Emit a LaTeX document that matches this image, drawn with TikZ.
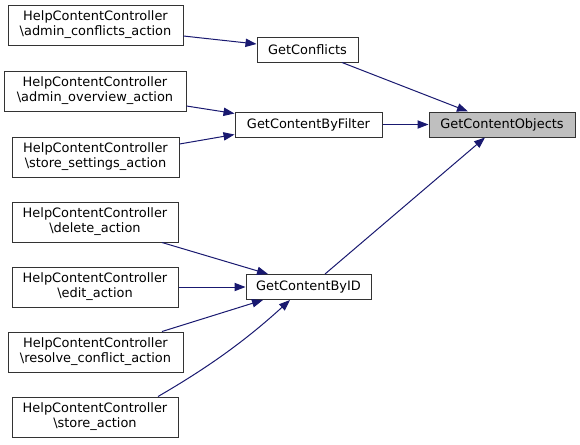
\documentclass[tikz,border=0pt]{standalone}
\usepackage{fontspec}
\setmainfont{DejaVu Sans}
\usetikzlibrary{arrows.meta,calc}
\definecolor{edgeblue}{HTML}{191970}
\definecolor{nodegray}{HTML}{BFBFBF}
\begin{document}
\begin{tikzpicture}[x=0.75pt,y=-0.75pt,
  box/.style={draw=black!80, line width=0.75pt, fill=white, inner sep=0pt,
    minimum height=30pt, align=center, font=\fontsize{9.7}{11.3}\selectfont},
  fnbox/.style={box, minimum height=18.75pt},
  edge/.style={draw=edgeblue, line width=0.75pt, -{Triangle[length=8.25pt,width=6.2pt]}}]
\useasboundingbox (0,0) rectangle (580,444);

\node[box, minimum width=131.25pt] (a1) at (95.5,25) {HelpContentController\\\textbackslash admin\_conflicts\_action};
\node[box, minimum width=136.5pt] (a2) at (95,91) {HelpContentController\\\textbackslash admin\_overview\_action};
\node[box, minimum width=125.25pt] (a3) at (95.5,157) {HelpContentController\\\textbackslash store\_settings\_action};
\node[box, minimum width=124.5pt] (a4) at (95,222) {HelpContentController\\\textbackslash delete\_action};
\node[box, minimum width=124.5pt] (a5) at (95,287) {HelpContentController\\\textbackslash edit\_action};
\node[box, minimum width=131.25pt] (a6) at (95.5,352) {HelpContentController\\\textbackslash resolve\_conflict\_action};
\node[box, minimum width=124.5pt] (a7) at (95,417) {HelpContentController\\\textbackslash store\_action};

\node[fnbox, minimum width=75.75pt] (gc) at (307.5,49.5) {GetConflicts};
\node[fnbox, minimum width=110.25pt] (gf) at (308.5,124.5) {GetContentByFilter};
\node[fnbox, minimum width=93.75pt] (gi) at (308.5,287) {GetContentByID};
\node[fnbox, minimum width=109.5pt, fill=nodegray] (go) at (502,124.5) {GetContentObjects};

\draw[edge] ($(a1.east)+(0,11)$) -- ($(gc.west)+(0,-5.5)$);
\draw[edge] ($(a2.east)+(0,15)$) -- ($(gf.west)+(0,-11)$);
\draw[edge] ($(a3.east)+(0,-13)$) -- ($(gf.west)+(0,10)$);
\draw[edge] ($(a4.south)+(67,0)$) -- ($(gi.north)+(-40.5,0)$);
\draw[edge] (a5.east) -- (gi.west);
\draw[edge] ($(a6.north)+(66.5,0)$) -- ($(gi.south)+(-45.5,0)$);
\draw[edge] ($(a7.north)+(63,0)$) .. controls +(50,-29) and +(-45,41) .. ($(gi.south)+(-18.5,0)$);
\draw[edge] ($(gc.south)+(34.5,0)$) -- ($(go.north)+(-34,0)$);
\draw[edge] (gf.east) -- (go.west);
\draw[edge] ($(gi.north)+(16.5,0)$) -- ($(go.south)+(-17,0)$);
\end{tikzpicture}
\end{document}
